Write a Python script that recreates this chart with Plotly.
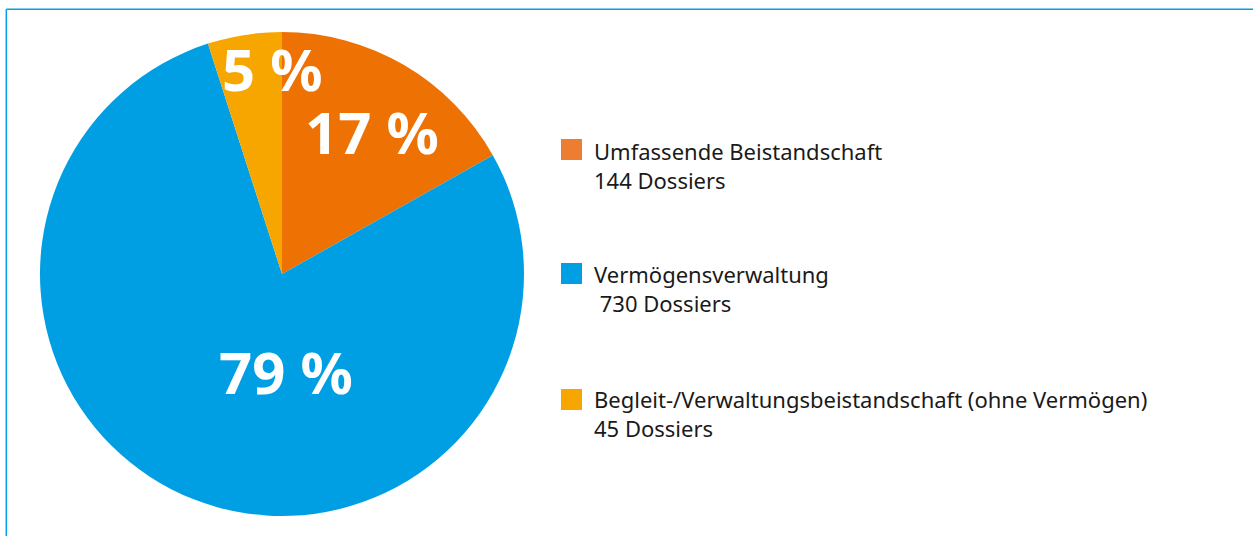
import plotly.graph_objects as go

W, H = 1253, 536

categories = [
    "Umfassende Beistandschaft",
    "Vermögensverwaltung",
    "Begleit-/Verwaltungsbeistandschaft (ohne Vermögen)",
]
dossiers = [144, 730, 45]
percents = [17, 79, 5]
slice_colors = ["#EE7203", "#009FE3", "#F7A600"]
legend_colors = ["#ED7D31", "#009FE3", "#F7A600"]
legend_second = ["144 Dossiers", "\u00a0730 Dossiers", "45 Dossiers"]

def px(x):
    return x / W

def py(y):
    return 1 - y / H

fig = go.Figure()
fig.add_trace(go.Pie(
    labels=categories,
    values=percents,
    sort=False,
    direction="clockwise",
    rotation=0,
    marker=dict(colors=slice_colors, line=dict(width=0)),
    textinfo="none",
    hoverinfo="label+value",
    showlegend=False,
    domain=dict(x=[px(40), px(524)], y=[py(517), py(31)]),
))

# percentage labels
label_pos = [(372, 131.5), (285.5, 371.5), (272, 68.5)]
annotations = []
for p, (lx, ly) in zip(percents, label_pos):
    annotations.append(dict(
        x=px(lx), y=py(ly), xref="paper", yref="paper",
        text=f"<b>{p} %</b>", showarrow=False,
        xanchor="center", yanchor="middle",
        font=dict(family="Noto Sans", size=58, color="white"),
    ))

# custom legend
shapes = []
legend_sq_top = [139, 263, 389]
legend_text_mid = [165.5, 288.5, 413.5]
for i, (name, sub) in enumerate(zip(categories, legend_second)):
    t = legend_sq_top[i]
    shapes.append(dict(
        type="rect", xref="paper", yref="paper",
        x0=px(561), x1=px(582), y0=py(t + 21), y1=py(t),
        fillcolor=legend_colors[i], line=dict(width=0),
    ))
    annotations.append(dict(
        x=px(592), y=py(legend_text_mid[i]), xref="paper", yref="paper",
        text=f"{name}<br>{sub}", showarrow=False, align="left",
        xanchor="left", yanchor="middle",
        font=dict(family="Noto Sans", size=22, color="#1a1a1a"),
    ))

# frame lines
shapes.append(dict(type="line", xref="paper", yref="paper",
                   x0=px(6.3), x1=1, y0=py(9.3), y1=py(9.3),
                   line=dict(color="#00A0E6", width=1.5)))
shapes.append(dict(type="line", xref="paper", yref="paper",
                   x0=px(6.3), x1=px(6.3), y0=0, y1=py(9.3),
                   line=dict(color="#00A0E6", width=1.5)))

fig.update_layout(
    width=W, height=H,
    margin=dict(l=0, r=0, t=0, b=0),
    paper_bgcolor="white", plot_bgcolor="white",
    annotations=annotations, shapes=shapes,
    showlegend=False,
    font=dict(family="Noto Sans"),
)

fig.write_html(
    "out.html",
    config={"displayModeBar": False},
    post_script="document.body.style.margin='0';document.body.style.overflow='hidden';",
)
